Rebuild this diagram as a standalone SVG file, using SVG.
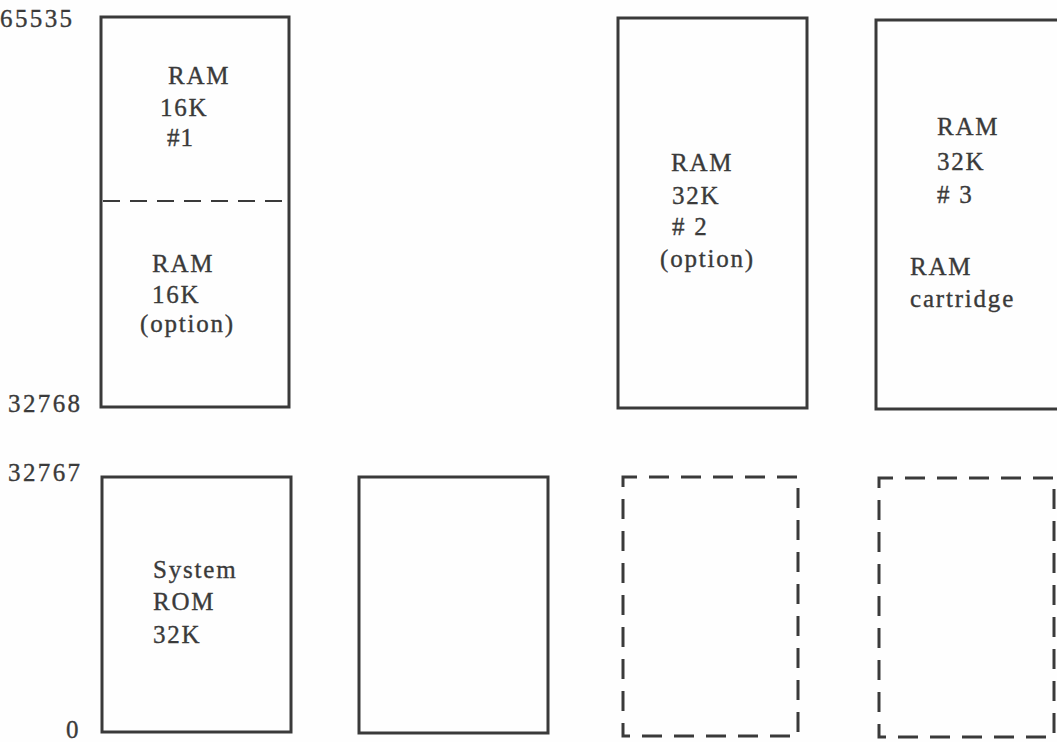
<svg xmlns="http://www.w3.org/2000/svg" width="1057" height="742" viewBox="0 0 1057 742">
<style>
text{font-family:"Liberation Serif","Times New Roman",serif;font-size:25px;fill:#3a3a3a;stroke:#3a3a3a;stroke-width:0.35;letter-spacing:1.8px}
.num{letter-spacing:2.4px}
.box{fill:none;stroke:#3a3a3a;stroke-width:3}
.dbox{fill:none;stroke:#3a3a3a;stroke-width:3;stroke-dasharray:20 12;stroke-dashoffset:6}
.div{fill:none;stroke:#3a3a3a;stroke-width:2;stroke-dasharray:17 10}
</style>
<rect width="1057" height="742" fill="#fefefe"/>
<g id="axis-labels">
<text class="num" x="0" y="27">65535</text>
<text class="num" x="8" y="412">32768</text>
<text class="num" x="8" y="481">32767</text>
<text class="num" x="66" y="738">0</text>
</g>
<g id="ram16k-1">
<rect class="box" x="101" y="17" width="188" height="390"/>
<line class="div" x1="103" y1="201" x2="287" y2="201"/>
<text x="168" y="84">RAM</text>
<text x="160" y="116">16K</text>
<text x="167" y="146" style="letter-spacing:1px">#1</text>
<text x="152" y="272">RAM</text>
<text x="152" y="303">16K</text>
<text x="140" y="332">(option)</text>
</g>
<g id="ram32k-2">
<rect class="box" x="618" y="18" width="189" height="390"/>
<text x="671" y="171">RAM</text>
<text x="672" y="204">32K</text>
<text x="672" y="235"># 2</text>
<text x="660" y="267">(option)</text>
</g>
<g id="ram32k-3">
<rect class="box" x="876" y="20" width="200" height="389"/>
<text x="937" y="135">RAM</text>
<text x="937" y="170">32K</text>
<text x="937" y="203"># 3</text>
<text x="910" y="275">RAM</text>
<text x="910" y="307">cartridge</text>
</g>
<g id="system-rom">
<rect class="box" x="102" y="477" width="189" height="255"/>
<text x="153" y="578">System</text>
<text x="153" y="610">ROM</text>
<text x="153" y="643">32K</text>
</g>
<g id="empty-box">
<rect class="box" x="359" y="477" width="189" height="256"/>
</g>
<g id="dashed-box-1">
<rect class="dbox" x="623" y="477" width="175" height="259"/>
</g>
<g id="dashed-box-2">
<rect class="dbox" x="879" y="478" width="175" height="259"/>
</g>
<g id="connectors"></g>
</svg>
